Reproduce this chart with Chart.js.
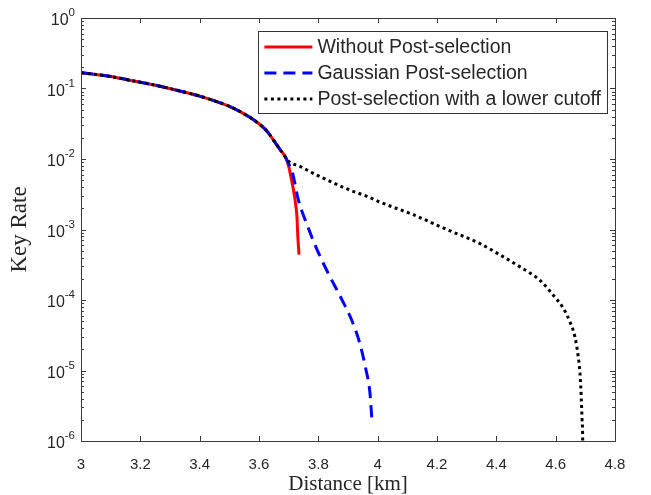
<!DOCTYPE html>
<html>
<head>
<meta charset="utf-8">
<script src="https://cdn.jsdelivr.net/npm/chart.js@4.4.1/dist/chart.umd.min.js"></script>
<style>
  html, body { margin: 0; padding: 0; background: #fff; }
  #wrap { width: 651px; height: 495px; }
</style>
</head>
<body>
<div id="wrap"><canvas id="myChart" width="651" height="495"></canvas></div>
<script>
'use strict';

// distance [km] and key rate
let commonX = [3.00, 3.05, 3.10, 3.16, 3.20, 3.27, 3.33, 3.40, 3.45, 3.50, 3.55, 3.60, 3.63, 3.65, 3.67, 3.69];
let commonY = [0.168, 0.158, 0.148, 0.132, 0.123, 0.107, 0.093, 0.078, 0.0668, 0.056, 0.0437, 0.0316, 0.024, 0.0182, 0.0138, 0.0105];

let redX = [3.700, 3.705, 3.712, 3.718, 3.724, 3.728, 3.731, 3.735];
let redY = [0.0080, 0.0063, 0.0045, 0.0033, 0.0022, 0.0015, 0.00078, 0.00044];

let blueX = [3.700, 3.711, 3.720, 3.731, 3.745, 3.762, 3.789, 3.829, 3.863, 3.880, 3.914, 3.940, 3.960, 3.974, 3.981];
let blueY = [0.0085, 0.0069, 0.0047, 0.0028, 0.0018, 0.00117, 0.00060, 0.00026, 0.000138, 0.000100, 0.000050, 0.000024, 0.0000105, 0.0000048, 0.00000186];

let blackX = [3.694, 3.740, 3.795, 3.850, 3.907, 3.960, 4.013, 4.120, 4.233, 4.345, 4.412, 4.480, 4.547, 4.592, 4.626, 4.648, 4.665, 4.676, 4.682, 4.686, 4.689, 4.691, 4.692];
let blackY = [0.0098, 0.0078, 0.0059, 0.0046, 0.0036, 0.0030, 0.0024, 0.00162, 0.0010, 0.00063, 0.000437, 0.000295, 0.00019, 0.000117, 0.000076, 0.000049, 0.000030, 0.0000158, 0.0000091, 0.0000043, 0.0000020, 0.0000011, 0.0000003];

let labels = ['Without Post-selection', 'Gaussian Post-selection', 'Post-selection with a lower cutoff'];
let xTicks = [3, 3.2, 3.4, 3.6, 3.8, 4, 4.2, 4.4, 4.6, 4.8];
let yDecades = [-6, -5, -4, -3, -2, -1, 0];

function points(xs, ys) {
    let out = [];
    for (let i = 0; i < xs.length; i++) {
        out.push({ x: xs[i], y: ys[i] });
    }
    return out;
}

let axisColor = '#3a3a3a';
let textColor = '#262626';
let sans = '"Liberation Sans", Arial, sans-serif';

// box, inward ticks on all four sides, 10^n labels and the legend inside the axes
let boxPlugin = {
    id: 'boxPlugin',
    afterDatasetsDraw(chart) {
        let ctx = chart.ctx;
        let a = chart.chartArea;
        let xs = chart.scales.x;
        let ys = chart.scales.y;
        ctx.save();
        ctx.strokeStyle = axisColor;
        ctx.lineWidth = 1;
        ctx.beginPath();
        xs.ticks.forEach(function (t) {
            let px = Math.round(xs.getPixelForValue(t.value)) + 0.5;
            ctx.moveTo(px, a.bottom); ctx.lineTo(px, a.bottom - 5);
            ctx.moveTo(px, a.top); ctx.lineTo(px, a.top + 5);
        });
        ys.ticks.forEach(function (t) {
            let major = Math.abs(Math.log10(t.value) - Math.round(Math.log10(t.value))) < 1e-9;
            let len = major ? 5 : 3;
            let py = Math.round(ys.getPixelForValue(t.value)) + 0.5;
            ctx.moveTo(a.left, py); ctx.lineTo(a.left + len, py);
            ctx.moveTo(a.right, py); ctx.lineTo(a.right - len, py);
        });
        ctx.stroke();
        ctx.strokeRect(Math.round(a.left) + 0.5, Math.round(a.top) + 0.5, Math.round(a.right - a.left), Math.round(a.bottom - a.top));

        // y tick labels as 10 with a raised exponent
        ctx.fillStyle = textColor;
        ctx.textAlign = 'left';
        yDecades.forEach(function (e) {
            let py = ys.getPixelForValue(Math.pow(10, e));
            let ex = String(e);
            ctx.font = '11.5px ' + sans;
            let ew = ctx.measureText(ex).width;
            ctx.font = '16px ' + sans;
            let bw = ctx.measureText('10').width;
            let xEnd = a.left - 6;
            ctx.textBaseline = 'middle';
            ctx.fillText('10', xEnd - ew - bw, py + 3);
            ctx.font = '11.5px ' + sans;
            ctx.fillText(ex, xEnd - ew, py - 5);
        });

        // legend
        ctx.font = '19.5px ' + sans;
        let maxW = 0;
        chart.data.datasets.forEach(function (d) {
            maxW = Math.max(maxW, ctx.measureText(d.label).width);
        });
        let right = a.right - 8;
        let top = a.top + 13;
        let w = 59 + maxW + 6;
        let left = right - w;
        let h = 82;
        ctx.fillStyle = '#fff';
        ctx.fillRect(left, top, w, h);
        ctx.strokeStyle = '#333';
        ctx.strokeRect(Math.round(left) + 0.5, top + 0.5, Math.round(w), h);
        chart.data.datasets.forEach(function (d, i) {
            let yy = top + 16 + i * 26;
            ctx.beginPath();
            ctx.strokeStyle = d.borderColor;
            ctx.lineWidth = d.borderWidth;
            ctx.setLineDash(d.borderDash || []);
            ctx.moveTo(left + 6, yy);
            ctx.lineTo(left + 54, yy);
            ctx.stroke();
            ctx.setLineDash([]);
            ctx.fillStyle = textColor;
            ctx.textBaseline = 'middle';
            ctx.textAlign = 'left';
            ctx.fillText(d.label, left + 59, yy + 1);
        });
        ctx.restore();
    }
};

function chartRender() {
    let ctx = document.getElementById('myChart').getContext('2d');
    let myChart = new Chart(ctx, {
        type: 'line',
        data: {
            datasets: [{
                label: labels[0],
                data: points(commonX.concat(redX), commonY.concat(redY)),
                borderColor: '#ff0000',
                borderWidth: 3,
                order: 2
            }, {
                label: labels[1],
                data: points(commonX.concat(blueX), commonY.concat(blueY)),
                borderColor: '#0000ff',
                borderWidth: 3,
                borderDash: [12, 7],
                order: 1
            }, {
                label: labels[2],
                data: points(commonX.concat(blackX), commonY.concat(blackY)),
                borderColor: '#000000',
                borderWidth: 3,
                borderDash: [3, 3.5],
                order: 0
            }]
        },
        options: {
            responsive: false,
            animation: false,
            elements: {
                point: { radius: 0 },
                line: { cubicInterpolationMode: 'monotone', fill: false, borderCapStyle: 'butt' }
            },
            layout: { padding: { top: 18, right: 36, left: 0, bottom: 0 } },
            plugins: {
                legend: { display: false },
                tooltip: { enabled: false }
            },
            scales: {
                x: {
                    type: 'linear',
                    min: 3,
                    max: 4.8,
                    afterBuildTicks: function (scale) {
                        scale.ticks = xTicks.map(function (v) { return { value: v }; });
                    },
                    afterFit: function (scale) { scale.height = 54; },
                    grid: { display: false },
                    border: { display: false },
                    ticks: {
                        padding: 7,
                        color: textColor,
                        font: { family: sans, size: 15 },
                        maxRotation: 0,
                        autoSkip: false,
                        callback: function (v) { return String(v); }
                    },
                    title: {
                        display: true,
                        text: 'Distance [km]',
                        color: textColor,
                        font: { family: '"Liberation Serif", "Times New Roman", serif', size: 21, lineHeight: 1 },
                        padding: { top: 0, bottom: 0 }
                    }
                },
                y: {
                    type: 'logarithmic',
                    min: 1e-6,
                    max: 1,
                    afterBuildTicks: function (scale) {
                        let t = [];
                        for (let i = 0; i < yDecades.length; i++) {
                            let base = Math.pow(10, yDecades[i]);
                            t.push({ value: base });
                            if (i < yDecades.length - 1) {
                                for (let m = 2; m <= 9; m++) {
                                    t.push({ value: m * base });
                                }
                            }
                        }
                        scale.ticks = t;
                    },
                    afterFit: function (scale) { scale.width = 81; },
                    grid: { display: false },
                    border: { display: false },
                    ticks: { display: false },
                    title: {
                        display: true,
                        text: 'Key Rate',
                        color: textColor,
                        font: { family: '"Liberation Serif", "Times New Roman", serif', size: 23, lineHeight: 1 },
                        padding: { top: 8, bottom: 0 }
                    }
                }
            }
        },
        plugins: [boxPlugin]
    });
}
chartRender();
</script>
</body>
</html>
